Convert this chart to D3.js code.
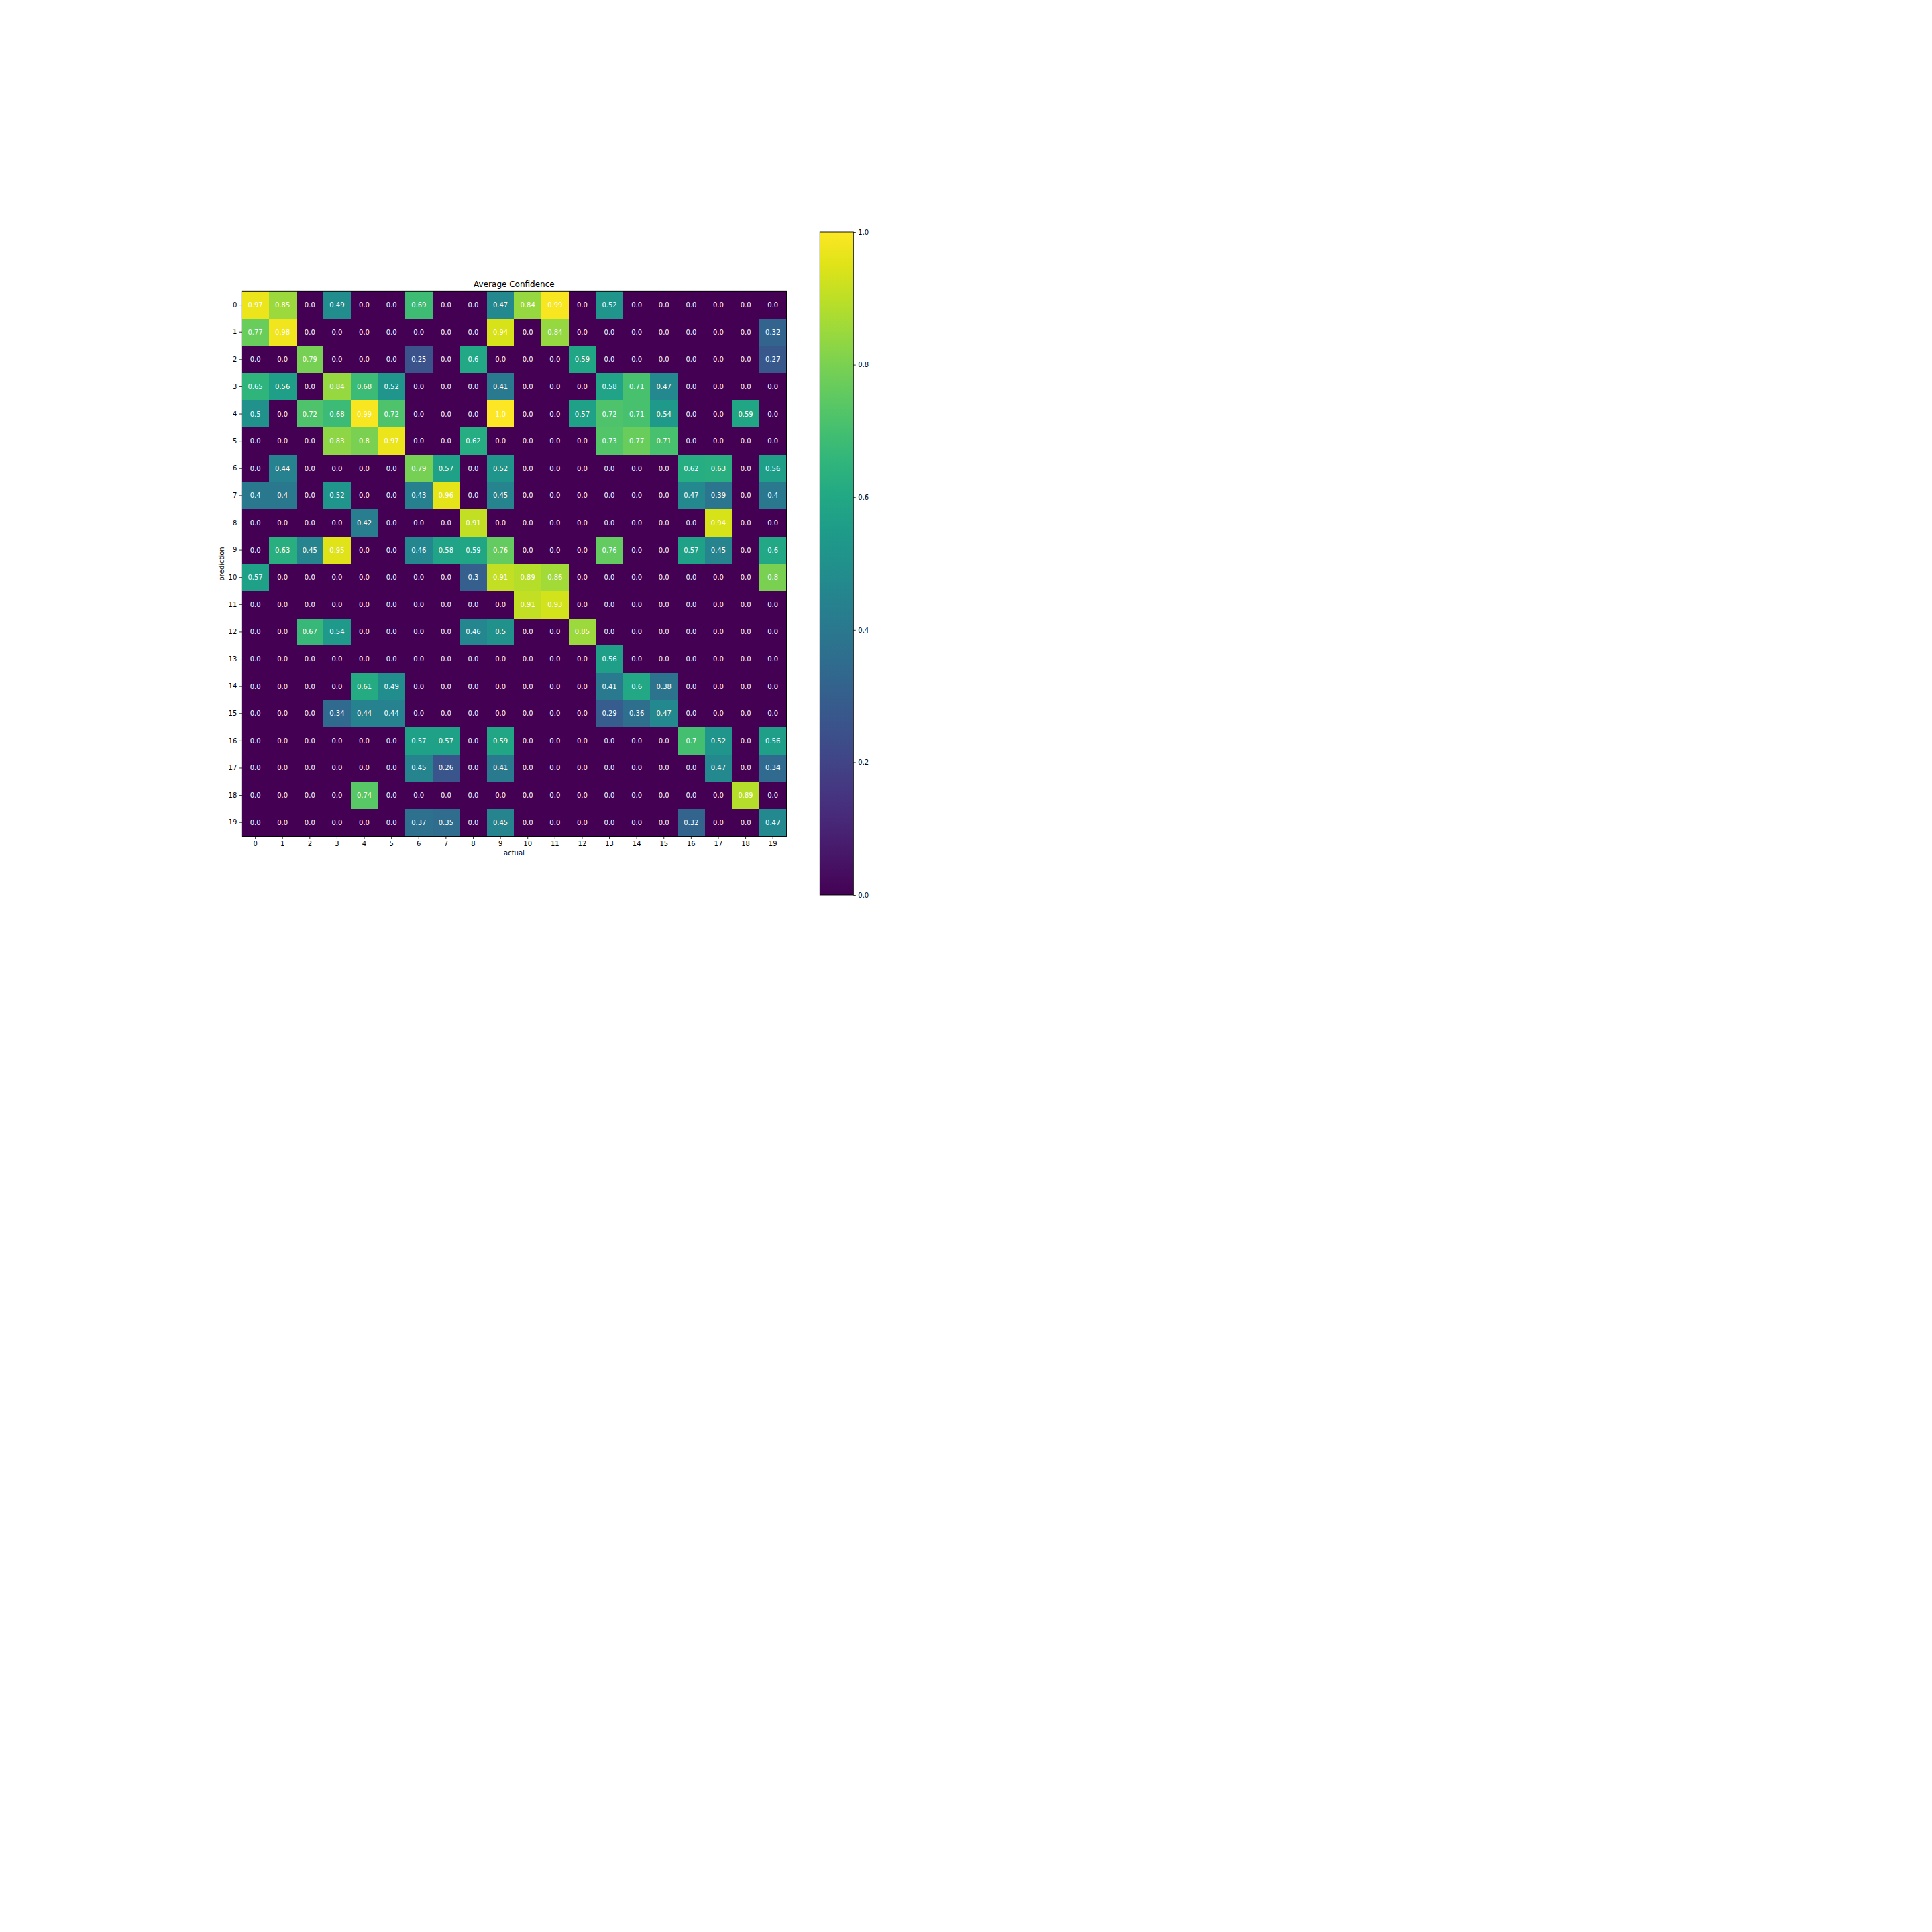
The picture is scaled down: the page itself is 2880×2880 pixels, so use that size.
<!DOCTYPE html>
<html>
<head>
<meta charset="utf-8">
<script src="https://cdn.jsdelivr.net/npm/d3@7"></script>
<style>
    body { margin: 0; background: #fff; }
    text { font-family: "DejaVu Sans", sans-serif; }
</style>
</head>
<body>
<svg id="chart" width="2880" height="2880"></svg>
<script>
// class labels, same for both axes
const actual = ["0","1","2","3","4","5","6","7","8","9","10","11","12","13","14","15","16","17","18","19"];
const prediction = ["0","1","2","3","4","5","6","7","8","9","10","11","12","13","14","15","16","17","18","19"];

// rows = prediction, cols = actual
const confidence = [
    [0.97, 0.85, 0.0, 0.49, 0.0, 0.0, 0.69, 0.0, 0.0, 0.47, 0.84, 0.99, 0.0, 0.52, 0.0, 0.0, 0.0, 0.0, 0.0, 0.0],
    [0.77, 0.98, 0.0, 0.0, 0.0, 0.0, 0.0, 0.0, 0.0, 0.94, 0.0, 0.84, 0.0, 0.0, 0.0, 0.0, 0.0, 0.0, 0.0, 0.32],
    [0.0, 0.0, 0.79, 0.0, 0.0, 0.0, 0.25, 0.0, 0.6, 0.0, 0.0, 0.0, 0.59, 0.0, 0.0, 0.0, 0.0, 0.0, 0.0, 0.27],
    [0.65, 0.56, 0.0, 0.84, 0.68, 0.52, 0.0, 0.0, 0.0, 0.41, 0.0, 0.0, 0.0, 0.58, 0.71, 0.47, 0.0, 0.0, 0.0, 0.0],
    [0.5, 0.0, 0.72, 0.68, 0.99, 0.72, 0.0, 0.0, 0.0, 1.0, 0.0, 0.0, 0.57, 0.72, 0.71, 0.54, 0.0, 0.0, 0.59, 0.0],
    [0.0, 0.0, 0.0, 0.83, 0.8, 0.97, 0.0, 0.0, 0.62, 0.0, 0.0, 0.0, 0.0, 0.73, 0.77, 0.71, 0.0, 0.0, 0.0, 0.0],
    [0.0, 0.44, 0.0, 0.0, 0.0, 0.0, 0.79, 0.57, 0.0, 0.52, 0.0, 0.0, 0.0, 0.0, 0.0, 0.0, 0.62, 0.63, 0.0, 0.56],
    [0.4, 0.4, 0.0, 0.52, 0.0, 0.0, 0.43, 0.96, 0.0, 0.45, 0.0, 0.0, 0.0, 0.0, 0.0, 0.0, 0.47, 0.39, 0.0, 0.4],
    [0.0, 0.0, 0.0, 0.0, 0.42, 0.0, 0.0, 0.0, 0.91, 0.0, 0.0, 0.0, 0.0, 0.0, 0.0, 0.0, 0.0, 0.94, 0.0, 0.0],
    [0.0, 0.63, 0.45, 0.95, 0.0, 0.0, 0.46, 0.58, 0.59, 0.76, 0.0, 0.0, 0.0, 0.76, 0.0, 0.0, 0.57, 0.45, 0.0, 0.6],
    [0.57, 0.0, 0.0, 0.0, 0.0, 0.0, 0.0, 0.0, 0.3, 0.91, 0.89, 0.86, 0.0, 0.0, 0.0, 0.0, 0.0, 0.0, 0.0, 0.8],
    [0.0, 0.0, 0.0, 0.0, 0.0, 0.0, 0.0, 0.0, 0.0, 0.0, 0.91, 0.93, 0.0, 0.0, 0.0, 0.0, 0.0, 0.0, 0.0, 0.0],
    [0.0, 0.0, 0.67, 0.54, 0.0, 0.0, 0.0, 0.0, 0.46, 0.5, 0.0, 0.0, 0.85, 0.0, 0.0, 0.0, 0.0, 0.0, 0.0, 0.0],
    [0.0, 0.0, 0.0, 0.0, 0.0, 0.0, 0.0, 0.0, 0.0, 0.0, 0.0, 0.0, 0.0, 0.56, 0.0, 0.0, 0.0, 0.0, 0.0, 0.0],
    [0.0, 0.0, 0.0, 0.0, 0.61, 0.49, 0.0, 0.0, 0.0, 0.0, 0.0, 0.0, 0.0, 0.41, 0.6, 0.38, 0.0, 0.0, 0.0, 0.0],
    [0.0, 0.0, 0.0, 0.34, 0.44, 0.44, 0.0, 0.0, 0.0, 0.0, 0.0, 0.0, 0.0, 0.29, 0.36, 0.47, 0.0, 0.0, 0.0, 0.0],
    [0.0, 0.0, 0.0, 0.0, 0.0, 0.0, 0.57, 0.57, 0.0, 0.59, 0.0, 0.0, 0.0, 0.0, 0.0, 0.0, 0.7, 0.52, 0.0, 0.56],
    [0.0, 0.0, 0.0, 0.0, 0.0, 0.0, 0.45, 0.26, 0.0, 0.41, 0.0, 0.0, 0.0, 0.0, 0.0, 0.0, 0.0, 0.47, 0.0, 0.34],
    [0.0, 0.0, 0.0, 0.0, 0.74, 0.0, 0.0, 0.0, 0.0, 0.0, 0.0, 0.0, 0.0, 0.0, 0.0, 0.0, 0.0, 0.0, 0.89, 0.0],
    [0.0, 0.0, 0.0, 0.0, 0.0, 0.0, 0.37, 0.35, 0.0, 0.45, 0.0, 0.0, 0.0, 0.0, 0.0, 0.0, 0.32, 0.0, 0.0, 0.47]
];

const colorbarTicks = [0.0, 0.2, 0.4, 0.6, 0.8, 1.0];

var svg = d3.select('#chart');
svg.append('rect').attr('width', 2880).attr('height', 2880).attr('fill', '#fff');

// heatmap box
var plotLeft = 360.3, plotTop = 434.3, plotSize = 812.2;
var fontSize = 10;

var x = d3.scaleBand().domain(actual).range([plotLeft, plotLeft + plotSize]);
var y = d3.scaleBand().domain(prediction).range([plotTop, plotTop + plotSize]);
var color = d3.scaleSequential(d3.interpolateViridis).domain([0, 1]);

// python-ish str() of the value
function label(v) {
    if (Math.round(v * 100) % 10 === 0) return v.toFixed(1);
    return String(v);
}

let cells = [];
for (let i = 0; i < confidence.length; i++) {
    for (let j = 0; j < confidence[i].length; j++) {
        cells.push({row: prediction[i], col: actual[j], value: confidence[i][j]});
    }
}

svg.append('g')
    .attr('shape-rendering', 'crispEdges')
    .selectAll('rect')
    .data(cells)
    .enter()
    .append('rect')
    .attr('x', d => x(d.col))
    .attr('y', d => y(d.row))
    .attr('width', x.bandwidth() + 0.6)
    .attr('height', y.bandwidth() + 0.6)
    .attr('fill', d => color(d.value));

svg.append('g')
    .selectAll('text')
    .data(cells)
    .enter()
    .append('text')
    .attr('x', d => x(d.col) + x.bandwidth() / 2)
    .attr('y', d => y(d.row) + y.bandwidth() / 2)
    .attr('text-anchor', 'middle')
    .attr('dominant-baseline', 'central')
    .attr('font-size', fontSize)
    .attr('fill', '#fff')
    .text(d => label(d.value));

// axes
var xAxis = svg.append('g')
    .attr('transform', 'translate(0,' + (plotTop + plotSize) + ')')
    .call(d3.axisBottom(x).tickSize(3.5).tickPadding(3.5));
var yAxis = svg.append('g')
    .attr('transform', 'translate(' + plotLeft + ',0)')
    .call(d3.axisLeft(y).tickSize(3.5).tickPadding(3.5));
[xAxis, yAxis].forEach(function(a) {
    a.select('.domain').remove();
    a.selectAll('text').attr('font-size', fontSize).attr('font-family', '"DejaVu Sans", sans-serif').attr('fill', '#000');
    a.selectAll('line').attr('stroke', '#000').attr('stroke-width', 0.8);
});

// frame
svg.append('rect')
    .attr('x', plotLeft).attr('y', plotTop)
    .attr('width', plotSize).attr('height', plotSize)
    .attr('fill', 'none')
    .attr('stroke', '#000')
    .attr('stroke-width', 0.9);

svg.append('text')
    .attr('x', plotLeft + plotSize / 2)
    .attr('y', plotTop - 6)
    .attr('text-anchor', 'middle')
    .attr('font-size', 12)
    .text('Average Confidence');

svg.append('text')
    .attr('x', plotLeft + plotSize / 2)
    .attr('y', 1275)
    .attr('text-anchor', 'middle')
    .attr('font-size', fontSize)
    .text('actual');

svg.append('text')
    .attr('transform', 'translate(333.5,' + (plotTop + plotSize / 2) + ') rotate(-90)')
    .attr('text-anchor', 'middle')
    .attr('font-size', fontSize)
    .text('prediction');

// colorbar
var cbLeft = 1222.3, cbWidth = 50, cbTop = 346, cbBottom = 1334;
var cbScale = d3.scaleLinear().domain([0, 1]).range([cbBottom, cbTop]);

var defs = svg.append('defs');
var grad = defs.append('linearGradient')
    .attr('id', 'cbgrad')
    .attr('x1', 0).attr('y1', 1).attr('x2', 0).attr('y2', 0);
grad.selectAll('stop')
    .data(d3.range(0, 1.001, 0.05))
    .enter()
    .append('stop')
    .attr('offset', d => d)
    .attr('stop-color', d => color(d));

svg.append('rect')
    .attr('x', cbLeft).attr('y', cbTop)
    .attr('width', cbWidth).attr('height', cbBottom - cbTop)
    .attr('fill', 'url(#cbgrad)')
    .attr('stroke', '#000')
    .attr('stroke-width', 0.9);

var cbAxis = svg.append('g')
    .attr('transform', 'translate(' + (cbLeft + cbWidth) + ',0)')
    .call(d3.axisRight(cbScale).tickValues(colorbarTicks).tickFormat(d3.format('.1f')).tickSize(3.5).tickPadding(3.5));
cbAxis.select('.domain').remove();
cbAxis.selectAll('text').attr('font-size', fontSize).attr('font-family', '"DejaVu Sans", sans-serif').attr('fill', '#000');
cbAxis.selectAll('line').attr('stroke', '#000').attr('stroke-width', 0.8);
</script>
</body>
</html>
